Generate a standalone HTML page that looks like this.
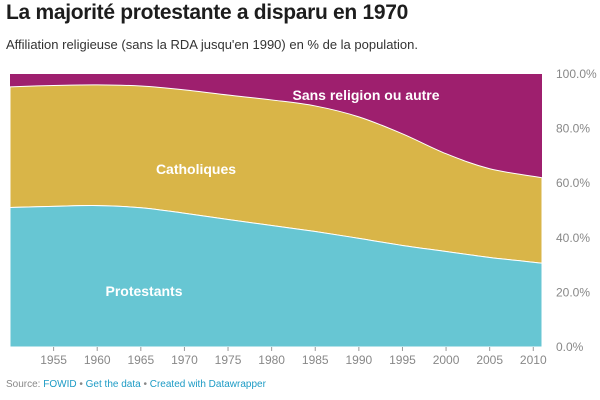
<!DOCTYPE html>
<html><head><meta charset="utf-8"><style>
body{margin:0;width:600px;height:400px;background:#fff;font-family:"Liberation Sans",sans-serif;overflow:hidden}
h1{position:absolute;left:6px;top:1px;margin:0;font-size:21px;font-weight:bold;color:#1d1d1d;letter-spacing:-0.3px}
.sub{position:absolute;left:6px;top:37px;font-size:13px;color:#333}
.foot{position:absolute;left:6px;top:379px;font-size:10px;color:#888}
.foot span{color:#1d9bc5}
</style></head><body>
<h1>La majorité protestante a disparu en 1970</h1>
<div class="sub">Affiliation religieuse (sans la RDA jusqu'en 1990) en % de la population.</div>
<svg id="chart" width="600" height="400" style="position:absolute;left:0;top:0"></svg>
<div class="foot">Source: <span>FOWID</span> • <span>Get the data</span> • <span>Created with Datawrapper</span></div>
<script>
const years=[1950,1955,1960,1965,1970,1975,1980,1985,1990,1995,2000,2005,2011];
const protestants=[51.1,51.5,51.8,51,49,46.7,44.5,42.3,39.8,37.2,35,32.8,30.7];
const catholics=[44.2,44.3,44.2,44.6,45.2,45.6,46,46,44.5,40.9,35.8,32.5,31.3];
const yTicks=[0,20,40,60,80,100];
const xTicks=[1955,1960,1965,1970,1975,1980,1985,1990,1995,2000,2005,2010];
const NS="http://www.w3.org/2000/svg",svg=document.getElementById('chart');
const x0=10,x1=542,y0=347,y1=74;
const xs=v=>x0+(v-1950)/(2011-1950)*(x1-x0);
const ys=v=>y0-v/100*(y0-y1);
function mk(t,a){const e=document.createElementNS(NS,t);for(const k in a)e.setAttribute(k,a[k]);svg.appendChild(e);return e;}
function smooth(pts){let d='';
for(let i=0;i<pts.length-1;i++){const p0=pts[Math.max(i-1,0)],p1=pts[i],p2=pts[i+1],p3=pts[Math.min(i+2,pts.length-1)];
const c1=[p1[0]+(p2[0]-p0[0])/6,p1[1]+(p2[1]-p0[1])/6],c2=[p2[0]-(p3[0]-p1[0])/6,p2[1]-(p3[1]-p1[1])/6];
d+='C'+c1+' '+c2+' '+p2;}return d;}
function area(lo,hi){const up=years.map((y,i)=>[xs(y),ys(hi[i])]);const dn=years.map((y,i)=>[xs(y),ys(lo[i])]).reverse();
return 'M'+up[0]+smooth(up)+'L'+dn[0]+smooth(dn)+'Z';}
const zero=years.map(()=>0),top1=protestants,top2=years.map((y,i)=>protestants[i]+catholics[i]),full=years.map(()=>100);
let p=mk('path',{d:area(top2,full),fill:'#9e1f6e'});

p=mk('path',{d:area(top1,top2),fill:'#d9b548',stroke:'#fff','stroke-width':1});

p=mk('path',{d:area(zero,top1),fill:'#67c6d3',stroke:'#fff','stroke-width':1});

yTicks.forEach(v=>{const t=mk('text',{x:556,y:ys(v)+4,'font-size':12,fill:'#888'});t.textContent=v.toFixed(1)+'%';
});
xTicks.forEach(v=>{const l=mk('line',{x1:xs(v),x2:xs(v),y1:347,y2:351,stroke:'#999'});

const t=mk('text',{x:xs(v),y:364,'font-size':12,fill:'#888','text-anchor':'middle'});t.textContent=v;
});
[['Sans religion ou autre',366,100,'label-sans-religion'],['Catholiques',196,174,'label-catholiques'],['Protestants',144,296,'label-protestants']].forEach(a=>{
const t=mk('text',{x:a[1],y:a[2],'font-size':14,'font-weight':'bold',fill:'#fff','text-anchor':'middle'});t.textContent=a[0];
});
</script>
</body></html>
